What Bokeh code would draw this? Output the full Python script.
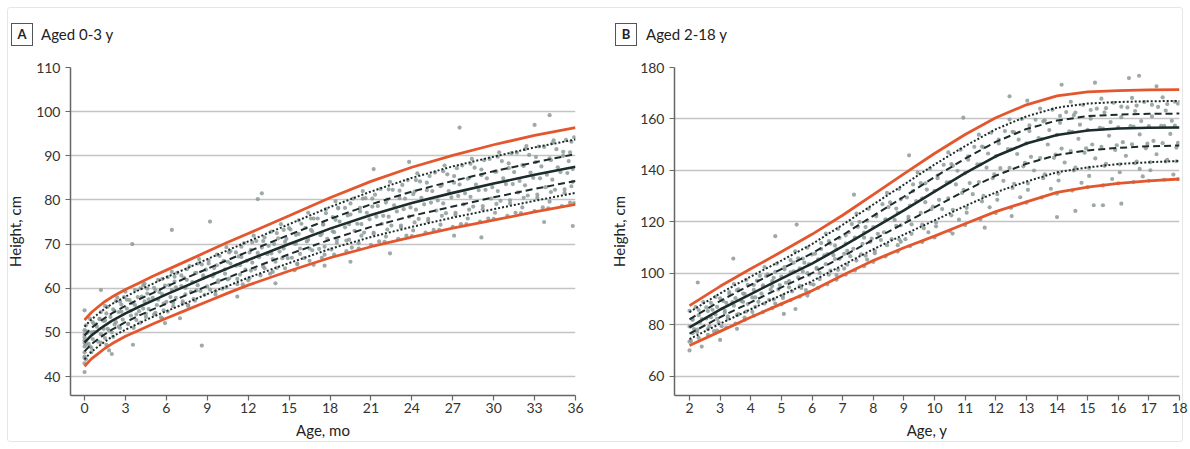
from bokeh.plotting import figure
from bokeh.layouts import row, column
from bokeh.models import Range1d, FixedTicker, Div
from bokeh.embed import file_html
from bokeh.resources import INLINE

# ---------------- Panel A: aged 0-3 y (months) ----------------
a_ticks = [0, 3, 6, 9, 12, 15, 18, 21, 24, 27, 30, 33, 36]
a_yticks = [40, 50, 60, 70, 80, 90, 100, 110]
a_months = [0, 0.5, 1, 1.5, 2, 3, 4, 5, 6, 7.5, 9, 10.5, 12, 15, 18, 21, 24, 27, 30, 33, 36]
a_p3  = [42.3, 44.0, 45.2, 46.4, 47.4, 49.1, 50.5, 51.9, 53.2, 55.1, 57.0, 58.9, 60.7, 63.9, 66.9, 69.4, 71.6, 73.6, 75.4, 77.3, 79.0]
a_p10 = [43.9, 45.6, 46.8, 47.9, 49.0, 50.6, 52.1, 53.5, 54.8, 56.7, 58.7, 60.5, 62.4, 65.7, 68.9, 71.6, 73.9, 76.0, 77.9, 79.8, 81.6]
a_p25 = [45.7, 47.3, 48.5, 49.6, 50.6, 52.3, 53.8, 55.2, 56.5, 58.5, 60.5, 62.4, 64.2, 67.7, 71.0, 73.9, 76.4, 78.5, 80.6, 82.5, 84.3]
a_p50 = [47.7, 49.3, 50.5, 51.6, 52.6, 54.3, 55.8, 57.2, 58.6, 60.6, 62.6, 64.5, 66.4, 70.0, 73.5, 76.6, 79.3, 81.6, 83.7, 85.7, 87.5]
a_p75 = [49.3, 51.0, 52.2, 53.3, 54.3, 56.0, 57.5, 58.9, 60.4, 62.4, 64.4, 66.4, 68.3, 72.1, 75.7, 79.0, 81.9, 84.3, 86.5, 88.5, 90.4]
a_p90 = [51.3, 52.9, 54.2, 55.4, 56.4, 58.1, 59.6, 61.0, 62.5, 64.5, 66.6, 68.6, 70.6, 74.5, 78.4, 81.9, 85.0, 87.6, 89.8, 91.9, 93.7]
a_p97 = [52.8, 54.5, 55.8, 57.0, 58.0, 59.7, 61.2, 62.7, 64.1, 66.2, 68.3, 70.4, 72.4, 76.4, 80.5, 84.2, 87.4, 90.1, 92.5, 94.6, 96.4]

# individual children (month, cm), read approximately from the cloud
a_points = [
    (0.0, 45.5), (0.1, 47.2), (0.0, 48.9), (0.1, 50.3), (0.0, 44.2), (0.1, 51.6), (0.0, 41.0), (0.0, 55.0),
    (0.0, 44.5), (0.0, 46.8), (0.0, 48.2), (0.0, 50.5), (0.0, 43.0), (0.0, 47.6), (0.0, 49.5),
    (0.4, 46.8), (0.6, 48.5), (0.5, 50.0), (0.7, 51.9), (0.5, 45.5),
    (1.0, 47.9), (1.2, 49.6), (0.9, 51.3), (1.1, 53.0), (1.2, 54.6), (1.2, 59.6),
    (1.5, 48.7), (1.7, 50.8), (1.4, 52.6), (1.6, 54.3), (1.5, 56.0), (1.8, 45.9), (2.0, 45.1),
    (2.0, 50.0), (2.2, 51.8), (1.9, 53.5), (2.1, 55.2), (2.3, 57.1),
    (2.6, 51.0), (2.8, 52.9), (2.5, 54.6), (2.7, 56.3), (2.9, 58.0), (3.5, 70.0), (3.55, 47.2),
    (3.2, 51.9), (3.4, 53.8), (3.1, 55.4), (3.3, 57.3), (3.0, 59.2),
    (3.8, 52.8), (4.0, 54.8), (3.7, 56.2), (3.9, 58.0), (4.1, 60.0),
    (4.5, 53.5), (4.7, 55.3), (4.4, 57.0), (4.6, 58.8), (4.3, 60.7),
    (5.1, 54.1), (5.3, 56.2), (5.0, 57.8), (5.2, 59.6), (5.4, 61.9), (5.7, 53.2), (5.9, 52.1),
    (5.8, 55.0), (6.0, 56.9), (5.7, 58.6), (5.9, 60.6), (6.1, 62.5), (6.4, 73.2),
    (6.5, 55.9), (6.7, 57.8), (6.4, 59.6), (6.6, 61.5), (6.8, 63.5), (7.0, 53.2),
    (7.2, 56.6), (7.4, 58.6), (7.1, 60.5), (7.3, 62.3), (7.5, 64.3), (7.6, 56.2),
    (8.0, 57.6), (8.2, 59.5), (7.9, 61.4), (8.1, 63.4), (8.3, 65.6), (8.6, 47.0),
    (8.8, 58.5), (9.0, 60.4), (8.7, 62.3), (8.9, 64.2), (9.1, 66.3), (9.2, 75.1),
    (9.6, 59.3), (9.8, 61.4), (9.5, 63.2), (9.7, 65.2), (9.9, 67.3),
    (10.4, 60.2), (10.6, 62.2), (10.3, 64.3), (10.5, 66.0), (10.7, 68.4),
    (11.2, 60.9), (11.4, 63.1), (11.1, 65.1), (11.3, 67.2), (11.5, 69.4), (11.2, 58.1),
    (12.0, 61.8), (12.2, 64.0), (11.9, 66.2), (12.1, 68.1), (12.3, 70.4), (12.7, 80.2),
    (12.9, 62.9), (13.1, 64.9), (12.8, 67.0), (13.0, 69.2), (13.2, 71.5), (13.0, 81.5),
    (13.8, 63.7), (14.0, 66.0), (13.7, 67.9), (13.9, 70.0), (14.1, 72.5), (14.0, 61.1),
    (14.7, 64.5), (14.9, 66.8), (14.6, 69.0), (14.8, 71.2), (15.0, 73.6), (15.4, 64.1),
    (15.6, 65.4), (15.8, 67.8), (15.5, 70.1), (15.7, 72.3), (15.9, 74.6),
    (16.5, 66.2), (16.7, 68.6), (16.4, 71.0), (16.6, 73.2), (16.8, 75.8), (16.8, 65.3),
    (17.4, 66.9), (17.6, 69.4), (17.3, 72.0), (17.5, 74.4), (17.7, 77.0), (17.6, 65.1),
    (18.3, 67.6), (18.5, 70.3), (18.2, 72.9), (18.4, 75.5), (18.6, 78.1),
    (19.2, 68.4), (19.4, 71.0), (19.1, 73.8), (19.3, 76.5), (19.5, 79.2), (19.5, 66.0),
    (20.1, 69.0), (20.3, 71.9), (20.0, 74.6), (20.2, 77.4), (20.4, 80.3),
    (21.0, 69.8), (21.2, 72.6), (20.9, 75.6), (21.1, 78.5), (21.3, 81.2), (21.2, 87.0),
    (22.0, 70.5), (22.2, 73.3), (21.9, 76.4), (22.1, 79.4), (22.3, 82.4), (22.4, 67.9),
    (23.0, 71.2), (23.2, 74.2), (22.9, 77.4), (23.1, 80.4), (23.3, 83.4), (23.8, 88.6),
    (24.0, 71.8), (24.2, 74.9), (23.9, 78.3), (24.1, 81.3), (24.3, 84.5),
    (25.0, 72.6), (25.2, 75.7), (24.9, 79.0), (25.1, 82.2), (25.3, 85.4),
    (26.0, 73.2), (26.2, 76.4), (25.9, 79.9), (26.1, 83.1), (26.3, 86.5),
    (27.0, 73.9), (27.2, 77.1), (26.9, 80.6), (27.1, 83.9), (27.3, 87.2), (27.5, 96.4), (27.1, 71.9),
    (28.0, 74.5), (28.2, 77.8), (27.9, 81.5), (28.1, 84.8), (28.3, 88.2),
    (29.0, 75.1), (29.2, 78.6), (28.9, 82.2), (29.1, 85.6), (29.3, 89.0), (29.1, 71.5),
    (30.0, 75.7), (30.2, 79.1), (29.9, 82.9), (30.1, 86.4), (30.3, 89.8),
    (31.0, 76.4), (31.2, 79.9), (30.9, 83.6), (31.1, 87.2), (31.3, 90.6),
    (32.0, 77.0), (32.2, 80.5), (31.9, 84.3), (32.1, 87.9), (32.3, 91.5),
    (33.0, 77.5), (33.2, 81.2), (32.9, 85.0), (33.1, 88.6), (33.3, 92.1), (33.0, 97.0),
    (34.0, 78.1), (34.2, 81.8), (33.9, 85.7), (34.1, 89.4), (34.3, 92.9), (34.1, 99.2), (33.7, 75.0),
    (35.0, 78.6), (35.2, 82.4), (34.9, 86.3), (35.1, 90.0), (35.3, 93.6),
    (35.9, 79.3), (35.7, 83.1), (35.8, 87.0), (35.6, 90.8), (35.9, 94.2), (35.8, 74.1),
]
a_cloud = [
    (0.1, 43.9), (0.5, 46.5), (0.3, 47.4), (0.7, 50.1), (0.2, 49.9), (0.6, 52.3), (0.4, 53.1),
    (1.6, 47.2), (1.2, 47.7), (1.8, 50.4), (1.4, 50.8), (1.5, 52.7), (1.1, 53.1), (1.7, 55.8),
    (2.1, 49.0), (2.5, 51.3), (2.3, 52.3), (2.7, 54.7), (2.2, 54.9), (2.6, 57.0), (2.4, 57.9),
    (3.6, 51.0), (3.2, 51.9), (3.8, 54.1), (3.4, 54.9), (3.5, 56.6), (3.1, 57.4), (3.7, 59.6),
    (4.1, 52.2), (4.5, 54.2), (4.3, 55.4), (4.7, 57.5), (4.2, 58.1), (4.6, 59.9), (4.4, 61.0),
    (5.6, 53.4), (5.2, 54.4), (5.8, 56.5), (5.4, 57.4), (5.5, 59.1), (5.1, 60.1), (5.7, 62.1),
    (6.1, 54.7), (6.5, 56.7), (6.3, 58.0), (6.7, 60.2), (6.2, 60.7), (6.6, 62.6), (6.4, 63.7),
    (7.6, 56.0), (7.2, 57.0), (7.8, 59.2), (7.4, 60.1), (7.5, 61.9), (7.1, 62.9), (7.7, 65.0),
    (8.1, 57.2), (8.5, 59.4), (8.3, 60.7), (8.7, 62.9), (8.2, 63.5), (8.6, 65.4), (8.4, 66.6),
    (9.6, 58.6), (9.2, 59.7), (9.8, 61.8), (9.4, 62.7), (9.5, 64.6), (9.1, 65.6), (9.7, 67.6),
    (10.1, 59.9), (10.5, 62.0), (10.3, 63.3), (10.7, 65.6), (10.2, 66.2), (10.6, 68.1), (10.4, 69.3),
    (11.6, 60.9), (11.2, 62.1), (11.8, 64.2), (11.4, 65.2), (11.5, 67.1), (11.1, 68.1), (11.7, 70.2),
    (12.1, 62.3), (12.5, 64.4), (12.3, 65.8), (12.7, 68.0), (12.2, 68.7), (12.6, 70.7), (12.4, 71.9),
    (13.6, 63.3), (13.2, 64.5), (13.8, 66.6), (13.4, 67.7), (13.5, 69.6), (13.1, 70.7), (13.7, 72.8),
    (14.1, 64.6), (14.5, 66.8), (14.3, 68.3), (14.7, 70.5), (14.2, 71.3), (14.6, 73.2), (14.4, 74.5),
    (15.6, 65.6), (15.2, 66.9), (15.8, 69.0), (15.4, 70.1), (15.5, 72.1), (15.1, 73.3), (15.7, 75.4),
    (16.1, 66.8), (16.5, 69.0), (16.3, 70.6), (16.7, 72.9), (16.2, 73.7), (16.6, 75.8), (16.4, 77.1),
    (17.6, 67.6), (17.2, 68.9), (17.8, 71.2), (17.4, 72.4), (17.5, 74.5), (17.1, 75.8), (17.7, 77.9),
    (18.1, 68.8), (18.5, 71.0), (18.3, 72.7), (18.7, 75.1), (18.2, 76.1), (18.6, 78.2), (18.4, 79.7),
    (19.6, 69.2), (19.2, 70.8), (19.8, 73.0), (19.4, 74.5), (19.5, 76.7), (19.1, 78.2), (19.7, 80.3),
    (20.1, 70.2), (20.5, 72.6), (20.3, 74.5), (20.7, 77.1), (20.2, 78.2), (20.6, 80.4), (20.4, 82.0),
    (21.6, 70.6), (21.2, 72.3), (21.8, 74.6), (21.4, 76.2), (21.5, 78.6), (21.1, 80.3), (21.7, 82.5),
    (22.1, 71.7), (22.5, 74.2), (22.3, 76.2), (22.7, 78.8), (22.2, 80.1), (22.6, 82.3), (22.4, 84.1),
    (23.6, 71.9), (23.2, 73.8), (23.8, 76.2), (23.4, 77.9), (23.5, 80.3), (23.1, 82.1), (23.7, 84.5),
    (24.1, 73.1), (24.5, 75.7), (24.3, 77.8), (24.7, 80.5), (24.2, 81.9), (24.6, 84.2), (24.4, 86.0),
    (25.6, 73.2), (25.2, 75.2), (25.8, 77.6), (25.4, 79.4), (25.5, 82.0), (25.1, 83.9), (25.7, 86.2),
    (26.1, 74.4), (26.5, 77.0), (26.3, 79.2), (26.7, 82.0), (26.2, 83.4), (26.6, 85.8), (26.4, 87.8),
    (27.6, 74.5), (27.2, 76.6), (27.8, 79.0), (27.4, 80.9), (27.5, 83.5), (27.1, 85.4), (27.7, 87.8),
    (28.1, 75.8), (28.5, 78.5), (28.3, 80.7), (28.7, 83.5), (28.2, 85.0), (28.6, 87.3), (28.4, 89.3),
    (29.6, 75.8), (29.2, 77.9), (29.8, 80.3), (29.4, 82.3), (29.5, 84.9), (29.1, 86.9), (29.7, 89.3),
    (30.1, 77.1), (30.5, 79.8), (30.3, 82.0), (30.7, 84.9), (30.2, 86.4), (30.6, 88.8), (30.4, 90.8),
    (31.6, 77.1), (31.2, 79.2), (31.8, 81.7), (31.4, 83.6), (31.5, 86.3), (31.1, 88.3), (31.7, 90.7),
    (32.1, 78.3), (32.5, 81.0), (32.3, 83.3), (32.7, 86.2), (32.2, 87.7), (32.6, 90.2), (32.4, 92.2),
    (33.6, 78.3), (33.2, 80.5), (33.8, 82.9), (33.4, 84.9), (33.5, 87.6), (33.1, 89.7), (33.7, 92.0),
    (34.1, 79.6), (34.5, 82.3), (34.3, 84.6), (34.7, 87.4), (34.2, 89.0), (34.6, 91.5), (34.4, 93.5),
    (35.6, 79.4), (35.2, 81.6), (35.8, 84.1), (35.4, 86.1), (35.5, 88.8), (35.1, 90.9), (35.7, 93.2),
]

# ---------------- Panel B: aged 2-18 y (years) ----------------
b_ticks = list(range(2, 19))
b_yticks = [60, 80, 100, 120, 140, 160, 180]
b_ages = [2, 3, 4, 5, 6, 7, 8, 9, 10, 11, 12, 13, 14, 15, 16, 17, 18]
b_p3  = [72.0, 77.5, 83.0, 88.2, 93.3, 99.3, 105.0, 110.0, 114.5, 119.3, 124.0, 127.8, 131.5, 133.5, 135.0, 136.0, 136.7]
b_p10 = [74.5, 80.5, 86.1, 91.6, 97.0, 103.2, 109.4, 115.1, 120.6, 126.2, 131.5, 135.7, 139.3, 141.2, 142.5, 143.2, 143.7]
b_p25 = [76.6, 83.0, 88.8, 94.6, 100.1, 106.6, 113.1, 119.4, 125.7, 132.1, 138.0, 142.6, 146.0, 147.8, 148.8, 149.4, 149.7]
b_p50 = [79.1, 86.0, 92.0, 98.0, 103.8, 110.5, 117.5, 124.5, 131.8, 139.0, 145.5, 150.5, 153.8, 155.5, 156.3, 156.6, 156.7]
b_p75 = [82.2, 89.3, 95.6, 101.7, 107.8, 114.9, 122.4, 129.8, 137.4, 144.6, 151.1, 156.1, 159.4, 161.1, 161.7, 162.0, 162.1]
b_p90 = [85.0, 92.3, 98.8, 105.0, 111.4, 118.9, 126.8, 134.5, 142.3, 149.5, 156.0, 161.0, 164.4, 166.0, 166.6, 166.9, 167.0]
b_p97 = [87.5, 95.0, 101.8, 108.4, 115.2, 122.6, 130.6, 138.7, 146.6, 154.0, 160.5, 165.5, 169.0, 170.5, 171.0, 171.3, 171.4]

b_points = [
    (2.0, 73.5), (2.1, 76.8), (2.0, 79.4), (2.1, 82.0), (2.0, 85.5), (2.0, 70.1), (2.27, 96.5), (2.4, 71.6),
    (2.3, 75.0), (2.25, 78.2), (2.35, 81.2), (2.3, 83.8), (2.2, 86.9),
    (2.6, 76.2), (2.65, 79.5), (2.55, 82.5), (2.6, 85.4), (2.7, 88.6),
    (2.9, 77.8), (2.95, 81.0), (2.85, 84.1), (2.9, 87.0), (3.0, 90.3), (3.0, 74.2),
    (3.2, 79.0), (3.25, 82.4), (3.15, 85.6), (3.2, 88.6), (3.3, 92.0), (3.43, 105.8),
    (3.5, 80.5), (3.55, 83.9), (3.45, 87.5), (3.5, 90.4), (3.6, 93.8), (3.55, 78.5),
    (3.8, 82.0), (3.85, 85.2), (3.75, 89.0), (3.8, 92.1), (3.9, 95.6),
    (4.1, 83.6), (4.15, 87.0), (4.05, 90.7), (4.1, 93.6), (4.2, 97.2),
    (4.4, 85.0), (4.45, 88.3), (4.35, 92.2), (4.4, 95.4), (4.5, 99.0),
    (4.7, 86.5), (4.75, 89.9), (4.65, 93.8), (4.7, 97.0), (4.8, 100.6), (4.8, 114.5),
    (5.0, 88.0), (5.05, 91.4), (4.95, 95.5), (5.0, 98.8), (5.1, 102.5), (5.08, 84.3),
    (5.3, 89.6), (5.35, 93.0), (5.25, 97.0), (5.3, 100.4), (5.4, 104.2), (5.46, 86.2),
    (5.6, 91.0), (5.65, 94.4), (5.55, 98.5), (5.6, 102.0), (5.7, 105.8), (5.5, 119.0),
    (5.9, 92.6), (5.95, 96.0), (5.85, 100.1), (5.9, 103.6), (6.0, 107.4), (5.85, 91.4),
    (6.2, 94.4), (6.25, 97.8), (6.15, 101.8), (6.2, 105.5), (6.3, 109.5),
    (6.5, 95.8), (6.55, 99.5), (6.45, 103.6), (6.5, 107.5), (6.6, 111.6),
    (6.8, 97.6), (6.85, 101.4), (6.75, 105.6), (6.8, 109.4), (6.9, 113.8),
    (7.1, 99.5), (7.15, 103.4), (7.05, 107.6), (7.1, 111.6), (7.2, 116.0),
    (7.4, 101.2), (7.45, 105.0), (7.35, 109.6), (7.4, 113.6), (7.5, 118.1), (7.37, 130.6),
    (7.7, 102.8), (7.75, 106.9), (7.65, 111.5), (7.7, 115.9), (7.8, 120.5),
    (8.0, 104.5), (8.05, 108.8), (7.95, 113.5), (8.0, 118.0), (8.1, 122.8),
    (8.4, 106.6), (8.45, 111.0), (8.35, 116.0), (8.4, 120.8), (8.5, 125.8),
    (8.8, 108.5), (8.85, 113.2), (8.75, 118.5), (8.8, 123.5), (8.9, 128.8), (8.9, 112.3),
    (9.2, 110.6), (9.25, 115.4), (9.15, 121.0), (9.2, 126.4), (9.3, 132.0), (9.17, 145.9),
    (9.6, 112.2), (9.65, 117.6), (9.55, 123.5), (9.6, 129.2), (9.7, 135.0),
    (10.0, 114.0), (10.05, 119.8), (9.95, 126.0), (10.0, 132.1), (10.1, 138.0),
    (10.5, 116.5), (10.55, 122.6), (10.45, 129.2), (10.5, 135.5), (10.6, 141.8), (10.59, 115.5),
    (11.0, 118.8), (11.05, 125.5), (10.95, 132.5), (11.0, 139.0), (11.1, 145.5), (10.94, 160.5),
    (11.5, 121.0), (11.55, 128.0), (11.45, 135.5), (11.5, 142.4), (11.6, 149.0), (11.64, 117.8),
    (12.0, 123.5), (12.05, 130.8), (11.95, 138.5), (12.0, 145.5), (12.1, 152.0),
    (12.5, 125.5), (12.55, 133.2), (12.45, 141.0), (12.5, 148.2), (12.6, 154.8), (12.45, 168.8), (12.52, 122.3),
    (13.0, 127.5), (13.05, 135.0), (12.95, 143.0), (13.0, 150.5), (13.1, 157.5), (13.03, 167.1),
    (13.5, 129.5), (13.55, 137.0), (13.45, 144.8), (13.5, 152.2), (13.6, 159.5),
    (14.0, 131.0), (14.05, 138.8), (13.95, 146.2), (14.0, 153.8), (14.1, 161.2), (14.15, 173.3), (14.0, 121.9),
    (14.5, 132.2), (14.55, 140.0), (14.45, 147.5), (14.5, 155.0), (14.6, 162.5), (14.6, 124.3),
    (15.0, 133.5), (15.05, 141.0), (14.95, 148.6), (15.0, 155.8), (15.1, 163.5), (15.24, 174.1), (15.2, 126.5),
    (15.5, 134.2), (15.55, 141.8), (15.45, 149.2), (15.5, 156.3), (15.6, 164.2), (15.5, 126.5),
    (16.0, 135.0), (16.05, 142.4), (15.95, 149.8), (16.0, 156.8), (16.1, 164.8), (16.1, 127.1),
    (16.5, 135.5), (16.55, 142.8), (16.45, 150.2), (16.5, 157.0), (16.6, 165.2), (16.35, 175.9), (16.68, 176.8), (16.7, 140.6),
    (17.0, 136.0), (17.05, 143.2), (16.95, 150.4), (17.0, 157.2), (17.1, 165.5), (17.25, 172.7),
    (17.5, 136.4), (17.55, 143.5), (17.45, 150.6), (17.5, 157.3), (17.6, 165.8),
    (17.95, 136.6), (17.9, 143.6), (17.95, 150.7), (17.85, 157.4), (17.95, 166.0),
]
b_cloud = [
    (2.05, 73.8), (2.25, 77.3), (2.15, 78.4), (2.4, 82.3), (2.1, 82.3), (2.3, 85.8), (2.45, 88.9),
    (2.8, 77.6), (2.6, 78.4), (2.9, 82.4), (2.7, 83.0), (2.75, 85.9), (2.55, 86.8), (2.85, 90.9),
    (3.05, 79.5), (3.25, 83.3), (3.15, 84.8), (3.4, 88.9), (3.1, 89.3), (3.3, 92.8), (3.45, 95.9),
    (3.8, 82.9), (3.6, 84.2), (3.9, 88.1), (3.7, 89.2), (3.75, 92.2), (3.55, 93.5), (3.85, 97.5),
    (4.05, 85.1), (4.25, 89.0), (4.15, 90.7), (4.4, 94.9), (4.1, 95.5), (4.3, 99.1), (4.45, 102.5),
    (4.8, 88.3), (4.6, 89.8), (4.9, 93.8), (4.7, 95.1), (4.75, 98.3), (4.55, 99.7), (4.85, 103.8),
    (5.05, 90.5), (5.25, 94.6), (5.15, 96.4), (5.4, 100.8), (5.1, 101.6), (5.3, 105.2), (5.45, 108.6),
    (5.8, 93.5), (5.6, 95.2), (5.9, 99.4), (5.7, 100.8), (5.75, 104.2), (5.55, 105.9), (5.85, 110.0),
    (6.05, 95.7), (6.25, 100.2), (6.15, 102.2), (6.4, 107.0), (6.1, 107.7), (6.3, 111.8), (6.45, 115.5),
    (6.8, 99.4), (6.6, 101.1), (6.9, 105.7), (6.7, 107.1), (6.75, 110.9), (6.55, 112.6), (6.85, 117.3),
    (7.05, 101.9), (7.25, 106.7), (7.15, 108.8), (7.4, 113.9), (7.1, 114.8), (7.3, 119.2), (7.45, 123.3),
    (7.8, 105.4), (7.6, 107.4), (7.9, 112.3), (7.7, 113.9), (7.75, 118.0), (7.55, 120.0), (7.85, 125.1),
    (8.05, 107.9), (8.25, 113.0), (8.15, 115.4), (8.4, 121.0), (8.1, 122.2), (8.3, 126.9), (8.45, 131.3),
    (8.8, 111.0), (8.6, 113.3), (8.9, 118.7), (8.7, 120.8), (8.75, 125.2), (8.55, 127.6), (8.85, 132.8),
    (9.05, 113.3), (9.25, 119.1), (9.15, 122.0), (9.4, 128.1), (9.1, 129.5), (9.3, 134.6), (9.45, 139.2),
    (9.8, 116.0), (9.6, 119.0), (9.9, 125.0), (9.7, 127.7), (9.75, 132.6), (9.55, 135.1), (9.85, 140.7),
    (10.05, 118.3), (10.25, 125.0), (10.15, 128.6), (10.4, 135.4), (10.1, 137.0), (10.3, 142.2), (10.45, 147.0),
    (10.8, 120.9), (10.6, 124.7), (10.9, 131.3), (10.7, 134.6), (10.75, 139.9), (10.55, 142.5), (10.85, 148.1),
    (11.05, 123.6), (11.25, 130.8), (11.15, 135.1), (11.4, 142.4), (11.1, 144.2), (11.3, 149.2), (11.45, 153.9),
    (11.8, 125.7), (11.6, 130.1), (11.9, 137.0), (11.7, 141.1), (11.75, 146.6), (11.55, 149.3), (11.85, 154.7),
    (12.05, 128.6), (12.25, 136.0), (12.15, 140.9), (12.4, 148.3), (12.1, 150.5), (12.3, 155.3), (12.45, 159.8),
    (12.8, 129.6), (12.6, 134.8), (12.9, 141.6), (12.7, 146.4), (12.75, 152.0), (12.55, 155.0), (12.85, 160.0),
    (13.05, 132.5), (13.25, 140.0), (13.15, 145.3), (13.4, 152.6), (13.1, 155.3), (13.3, 159.7), (13.45, 164.0),
    (13.8, 132.9), (13.6, 138.5), (13.9, 144.9), (13.7, 150.1), (13.75, 155.7), (13.55, 159.1), (13.85, 163.6),
    (14.05, 136.1), (14.25, 143.1), (14.15, 148.5), (14.4, 155.2), (14.1, 158.5), (14.3, 162.7), (14.45, 166.7),
    (14.8, 135.2), (14.6, 141.1), (14.9, 146.9), (14.7, 152.3), (14.75, 157.8), (14.55, 161.5), (14.85, 165.5),
    (15.05, 137.9), (15.25, 144.7), (15.15, 150.1), (15.4, 156.6), (15.1, 160.1), (15.3, 164.0), (15.45, 167.9),
    (15.8, 136.7), (15.6, 142.6), (15.9, 148.0), (15.7, 153.5), (15.75, 158.8), (15.55, 162.6), (15.85, 166.3),
    (16.05, 139.3), (16.25, 145.7), (16.15, 151.0), (16.4, 157.2), (16.1, 160.7), (16.3, 164.5), (16.45, 168.2),
    (16.8, 137.7), (16.6, 143.5), (16.9, 148.6), (16.7, 154.0), (16.75, 159.2), (16.55, 163.1), (16.85, 166.6),
    (17.05, 140.1), (17.25, 146.3), (17.15, 151.5), (17.4, 157.3), (17.1, 161.0), (17.3, 164.7), (17.45, 168.4),
    (17.8, 138.4), (17.6, 144.1), (17.9, 148.9), (17.7, 154.2), (17.75, 159.3), (17.55, 163.3), (17.85, 166.7),
]

ORANGE = "#e4572e"
DARK = "#1c2b2b"
POINT = "#8d9b98"
FONT = "Lato"


def make_panel(width, bl, br, xr, yr, xticks, yticks, xlabel, xs, curves, points):
    p = figure(width=width, height=401, output_backend="svg", toolbar_location=None,
               x_range=Range1d(*xr), y_range=Range1d(*yr),
               min_border_left=bl, min_border_right=br, min_border_top=19, min_border_bottom=54)
    p.background_fill_color = "white"
    p.border_fill_color = None
    p.outline_line_color = None
    p.xgrid.grid_line_color = None
    p.ygrid.grid_line_color = "#c4c4c4"
    p.ygrid.grid_line_width = 1.5
    p.xaxis.ticker = FixedTicker(ticks=xticks)
    p.yaxis.ticker = FixedTicker(ticks=yticks)
    for ax in (p.xaxis[0], p.yaxis[0]):
        ax.axis_line_color = "#666666"
        ax.axis_line_width = 1.5
        ax.major_tick_line_color = "#666666"
        ax.major_tick_line_width = 1.2
        ax.major_tick_out = 5
        ax.major_tick_in = 0
        ax.minor_tick_line_color = None
        ax.major_label_text_font = FONT
        ax.major_label_text_font_size = "14px"
        ax.major_label_text_color = "#333333"
        ax.axis_label_text_font = FONT
        ax.axis_label_text_font_size = "15px"
        ax.axis_label_text_font_style = "normal"
        ax.axis_label_text_color = "#222222"
    p.xaxis.axis_label = xlabel
    p.yaxis.axis_label = "Height, cm"
    p.xaxis.major_label_standoff = 2
    p.xaxis.axis_label_standoff = 5
    p.yaxis.major_label_standoff = 5
    p.yaxis.axis_label_standoff = 9

    px = [pt[0] for pt in points]
    py = [pt[1] for pt in points]
    p.scatter(px, py, marker="circle", size=4.2, fill_color=POINT, line_color=None, fill_alpha=0.85)

    p3, p10, p25, p50, p75, p90, p97 = curves
    p.line(xs, p10, line_color=DARK, line_width=2, line_dash="2 2")
    p.line(xs, p90, line_color=DARK, line_width=2, line_dash="2 2")
    p.line(xs, p25, line_color=DARK, line_width=2, line_dash="7 4")
    p.line(xs, p75, line_color=DARK, line_width=2, line_dash="7 4")
    p.line(xs, p50, line_color=DARK, line_width=2.6)
    p.line(xs, p3, line_color=ORANGE, line_width=2.8)
    p.line(xs, p97, line_color=ORANGE, line_width=2.8)
    return p


def header(width, letter, title, box_left, text_left):
    html = (
        f'<div style="position:relative;width:{width}px;height:48px;font-family:Lato,sans-serif;color:#222;">'
        f'<div style="position:absolute;left:{box_left}px;top:23px;width:22px;height:23px;box-sizing:border-box;'
        f'border:1.3px solid #555;text-align:center;line-height:21px;font-weight:bold;font-size:13px;">{letter}</div>'
        f'<div style="position:absolute;left:{text_left}px;top:24px;line-height:20px;font-size:15px;'
        f'white-space:nowrap;">{title}</div></div>'
    )
    return Div(text=html, width=width, height=48, margin=(0, 0, 0, 0))


pa = make_panel(600, 70, 25, (-1.03, 36), (35.7, 110), a_ticks, a_yticks, "Age, mo", a_months,
                (a_p3, a_p10, a_p25, a_p50, a_p75, a_p90, a_p97), a_points + a_cloud)
pb = make_panel(590, 74, 11, (1.51, 18), (52.6, 180), b_ticks, b_yticks, "Age, y", b_ages,
                (b_p3, b_p10, b_p25, b_p50, b_p75, b_p90, b_p97), b_points + b_cloud)

col_a = column(header(600, "A", "Aged 0-3 y", 11, 41), pa, spacing=0)
col_b = column(header(590, "B", "Aged 2-18 y", 15, 46), pb, spacing=0)
layout = row(col_a, col_b, spacing=0,
             styles={"outline": "1px solid #e6e6e6", "outline-offset": "-8px", "border-radius": "10px"})
open("out.html", "w").write(file_html(layout, INLINE))
